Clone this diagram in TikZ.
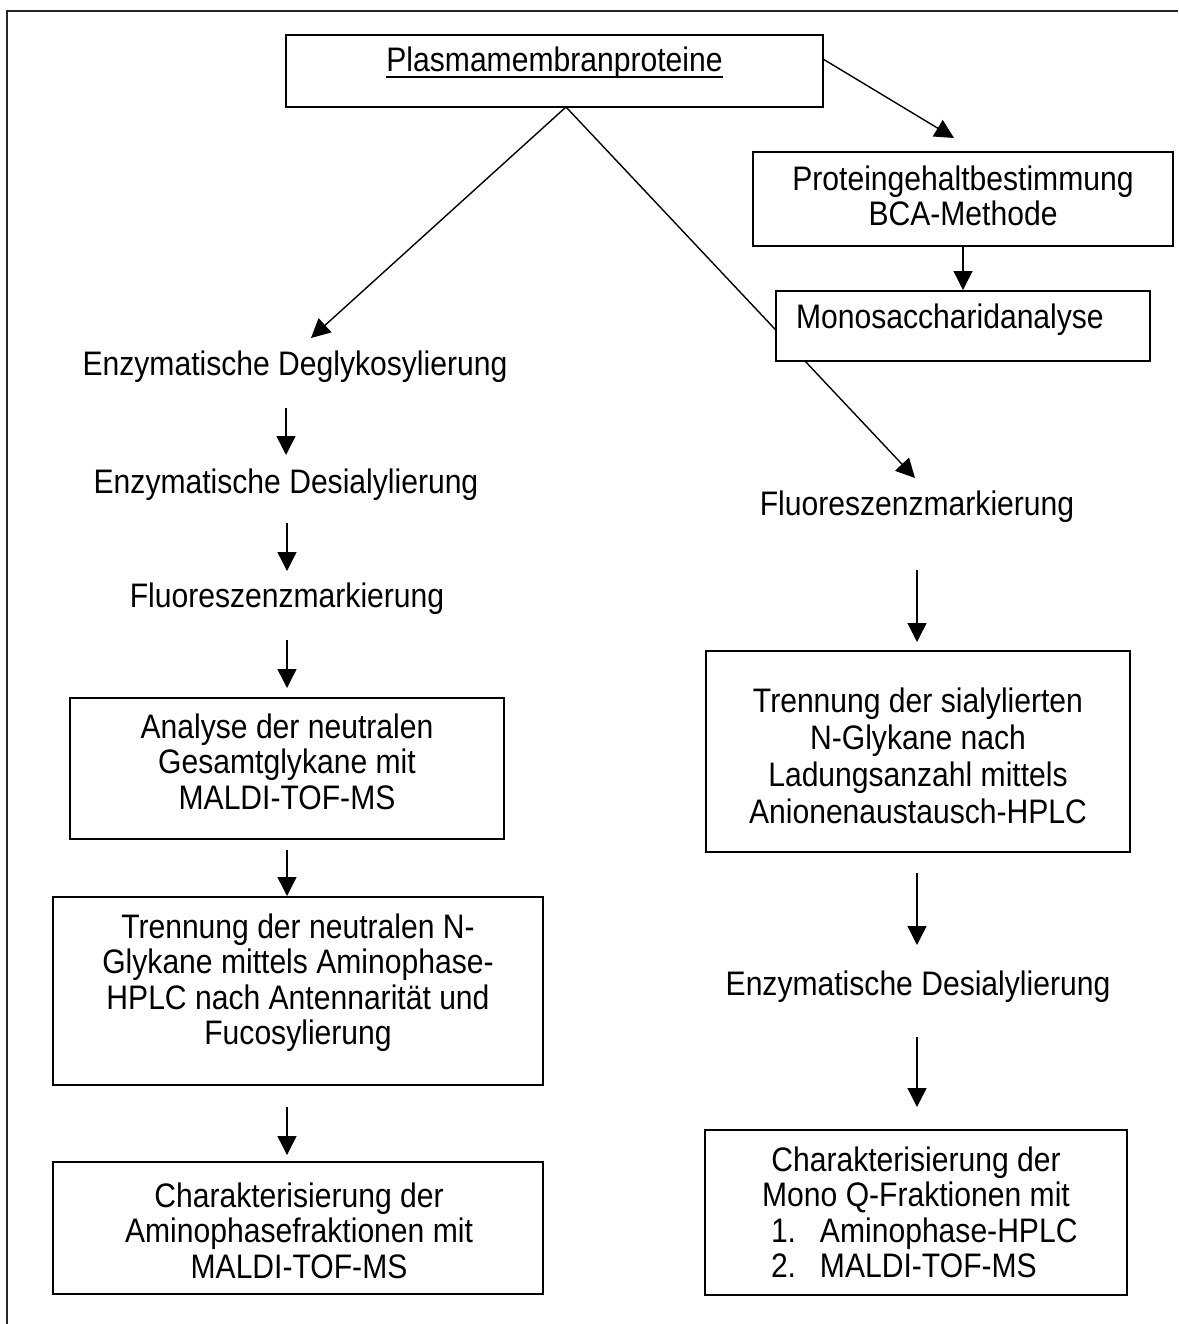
\documentclass[tikz,border=0pt]{standalone}
\usepackage{fontspec}
\setmainfont[FakeStretch=0.885]{Liberation Sans}
\usetikzlibrary{arrows.meta,backgrounds}
\tikzset{
  box/.style={draw, line width=1.6pt, inner sep=0pt, outer sep=0pt, fill=white},
  txt/.style={inner sep=0pt, outer sep=0pt, font=\fontsize{34}{35.5}\selectfont, align=center},
  wide/.style={font=\fontsize{34}{37}\selectfont},
  one/.style={txt, text height=25pt, text depth=7pt},
  arr/.style={line width=1.4pt, -{Triangle[length=19pt,width=19pt]}},
  frame/.style={line width=2pt, draw=black!85}
}
\begin{document}
\begin{tikzpicture}[x=1pt,y=-1pt]
\useasboundingbox (0,0) rectangle (1178,1324);
\draw[frame] (7,1324) -- (7,11) -- (1178,11);

% boxes
\node[box, minimum width=537pt, minimum height=72pt] (plasma) at (554.5,71) {};
\node[box, minimum width=420pt, minimum height=94pt] (prot) at (963,199) {};
\node[box, minimum width=374pt, minimum height=70pt] (mono) at (963,326) {};
\node[box, minimum width=434pt, minimum height=141pt] (anaL) at (287,768.5) {};
\node[box, minimum width=490pt, minimum height=188pt] (trenL) at (298,991) {};
\node[box, minimum width=490pt, minimum height=132pt] (charL) at (298,1228) {};
\node[box, minimum width=424pt, minimum height=201pt] (trenR) at (918,751.5) {};
\node[box, minimum width=422pt, minimum height=165pt] (charR) at (916,1212.5) {};

% texts
\node[one, anchor=base] (plasmaT) at (554.5,72) {Plasmamembranproteine};
\draw[line width=1.8pt] ([yshift=-5pt]plasmaT.base west) -- ([yshift=-5pt]plasmaT.base east);
\node[txt, anchor=north] (protT) at (963,165.5) {Proteingehaltbestimmung\\BCA-Methode};
\node[one, anchor=base west] (monoT) at (796,328) {Monosaccharidanalyse};

\node[one, anchor=base] (degly) at (295,375) {Enzymatische Deglykosylierung};
\node[one, anchor=base] (desiaL) at (286,493) {Enzymatische Desialylierung};
\node[one, anchor=base] (fluorL) at (287,607) {Fluoreszenzmarkierung};
\node[txt, anchor=north] (anaT) at (287,713.5) {Analyse der neutralen\\Gesamtglykane mit\\MALDI-TOF-MS};
\node[txt, anchor=north] (trenLT) at (298,913.5) {Trennung der neutralen N-\\Glykane mittels Aminophase-\\HPLC nach Antennarit\"at und\\Fucosylierung};
\node[txt, anchor=north] (charLT) at (299,1182.5) {Charakterisierung der\\Aminophasefraktionen mit\\MALDI-TOF-MS};

\node[one, anchor=base] (fluorR) at (917,515) {Fluoreszenzmarkierung};
\node[txt, wide, anchor=north] (trenRT) at (918,687.5) {Trennung der sialylierten\\N-Glykane nach\\Ladungsanzahl mittels\\Anionenaustausch-HPLC};
\node[one, anchor=base] (desiaR) at (918,995) {Enzymatische Desialylierung};
\node[txt, anchor=north] (charRa) at (916,1146.5) {Charakterisierung der\\Mono Q-Fraktionen mit};
\node[txt, anchor=north west, align=left] (charRb) at (771,1217.5) {\makebox[49pt][l]{1.}Aminophase-HPLC\\\makebox[49pt][l]{2.}MALDI-TOF-MS};

% diagonal lines (behind the Monosaccharid box)
\begin{pgfonlayer}{background}
\draw[arr] ([xshift=11.5pt]plasma.south) -- ([xshift=16pt,yshift=12pt]degly.north);
\draw[arr] ([xshift=11.5pt]plasma.south) -- ([xshift=-2pt,yshift=12pt]fluorR.north);
\end{pgfonlayer}
\draw[arr] ([yshift=12pt]plasma.east) -- ([xshift=-9pt,yshift=14pt]prot.north);
\draw[arr, shorten >=1pt] (prot.south) -- (mono.north);

% left chain
\draw[arr, shorten <=26pt, shorten >=13pt] (degly.south -| desiaL.north) -- (desiaL.north);
\draw[arr, shorten <=23pt, shorten >=11pt] (desiaL.south -| fluorL.north) -- (fluorL.north);
\draw[arr, shorten <=26pt, shorten >=10pt] (fluorL.south) -- (fluorL.south |- anaL.north);
\draw[arr, shorten <=11pt, shorten >=1pt] (anaL.south) -- (anaL.south |- trenL.north);
\draw[arr, shorten <=22pt, shorten >=7pt] (anaL.south |- trenL.south) -- (anaL.south |- charL.north);

% right chain
\draw[arr, shorten <=48pt, shorten >=9pt] (fluorR.south) -- (fluorR.south |- trenR.north);
\draw[arr, shorten <=21pt, shorten >=25pt] (trenR.south -| fluorR.south) -- (fluorR.south |- desiaR.north);
\draw[arr, shorten <=35pt, shorten >=23pt] (desiaR.south -| fluorR.south) -- (fluorR.south |- charR.north);
\end{tikzpicture}
\end{document}
